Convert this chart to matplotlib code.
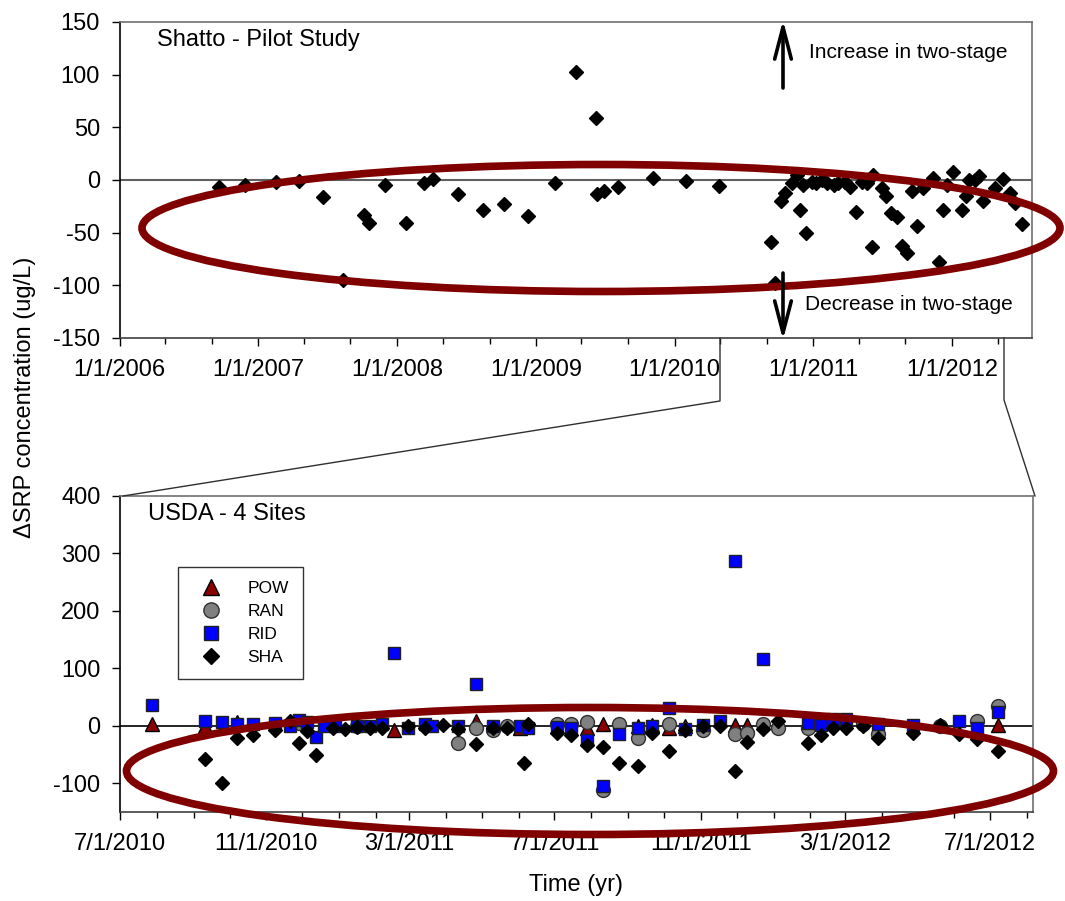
import matplotlib
matplotlib.use("Agg")
import matplotlib.pyplot as plt
import matplotlib.dates as mdates
import matplotlib.ticker as mticker
from matplotlib.patches import Ellipse, FancyArrowPatch
from matplotlib.lines import Line2D
import pandas as pd

plt.rcParams['font.family'] = ['Liberation Sans', 'DejaVu Sans']
plt.rcParams['axes.unicode_minus'] = False

# ---- top panel: Shatto pilot study ----
shatto_dates = ['2006-09-20', '2006-11-27', '2007-02-17', '2007-04-18', '2007-06-21',
                '2007-08-12', '2007-10-07', '2007-10-20', '2007-12-01', '2008-01-25',
                '2008-03-12', '2008-04-05', '2008-06-10', '2008-08-15', '2008-10-09',
                '2008-12-11', '2009-02-20', '2009-04-17', '2009-06-08', '2009-06-11',
                '2009-06-29', '2009-08-05', '2009-11-05', '2010-01-31', '2010-04-28',
                '2010-09-12', '2010-09-22', '2010-10-08', '2010-10-19', '2010-11-06',
                '2010-11-19', '2010-11-27', '2010-12-05', '2010-12-13', '2010-12-29',
                '2011-01-08', '2011-01-24', '2011-02-06', '2011-02-25', '2011-03-07',
                '2011-03-26', '2011-04-08', '2011-04-23', '2011-05-09', '2011-05-23',
                '2011-06-05', '2011-06-08', '2011-07-01', '2011-07-12', '2011-07-25',
                '2011-08-10', '2011-08-23', '2011-09-05', '2011-09-18', '2011-10-01',
                '2011-10-17', '2011-11-13', '2011-11-28', '2011-12-09', '2011-12-19',
                '2012-01-04', '2012-01-28', '2012-02-07', '2012-02-15', '2012-03-02',
                '2012-03-12', '2012-03-23', '2012-04-24', '2012-05-15', '2012-06-02',
                '2012-06-15', '2012-07-04']
shatto_vals = [-7, -5, -2, -1, -16,
               -95, -33, -41, -5, -41,
               -3, 1, -13, -28.5, -23,
               -34, -3, 102.5, 59, -13,
               -10.5, -6.7, 2, -1, -5.5,
               -59, -98, -20, -12, -3,
               5, -28.5, -5, -50, -2,
               -3, 0, -3, -5, -3,
               -2, -6.5, -30.5, -2, -3,
               -64, 5, -7.6, -15, -31,
               -35, -63, -69, -10, -43.7,
               -7.6, 2, -78, -28.5, -5,
               7.6, -28.5, -15, 0, 0,
               4, -20, -7.6, 1, -12,
               -21.5, -42]

# ---- bottom panel: USDA 4 sites ----
pow_dates = ['2010-07-28', '2010-09-10', '2010-10-07', '2011-02-16', '2011-04-26',
             '2011-06-02', '2011-07-28', '2011-08-11', '2011-09-09', '2011-09-21',
             '2011-10-05', '2011-10-19', '2011-11-30', '2011-12-10', '2012-07-08']
pow_vals = [3, 0, 7, -7, 9, -3, -3, 3, 0, 2, -3, 0, 2, 2, 2]

ran_dates = ['2010-11-28', '2011-01-16', '2011-04-11', '2011-04-26', '2011-05-10',
             '2011-05-22', '2011-07-03', '2011-07-15', '2011-07-28', '2011-08-11',
             '2011-08-24', '2011-09-09', '2011-10-05', '2011-11-03', '2011-11-30',
             '2011-12-10', '2011-12-23', '2012-01-05', '2012-01-30', '2012-03-16',
             '2012-03-29', '2012-05-20', '2012-06-20', '2012-07-08']
ran_vals = [5, 0, -30, -4, -7, 0, 3, 3, 7, -112, 3, -21, 3, -7, -14, -12, 3,
            -3.5, -3.5, 3, -14, 0, 9, 35]

rid_dates = ['2010-07-28', '2010-09-10', '2010-09-25', '2010-10-07', '2010-10-21',
             '2010-11-08', '2010-11-21', '2010-11-28', '2010-12-05', '2010-12-13',
             '2010-12-19', '2010-12-29', '2011-01-16', '2011-01-27', '2011-02-06',
             '2011-02-16', '2011-02-28', '2011-03-14', '2011-03-20', '2011-04-11',
             '2011-04-26', '2011-05-10', '2011-06-02', '2011-06-09', '2011-07-03',
             '2011-07-15', '2011-07-28', '2011-08-11', '2011-08-24', '2011-09-09',
             '2011-09-21', '2011-10-05', '2011-10-19', '2011-11-03', '2011-11-17',
             '2011-11-30', '2011-12-23', '2012-01-30', '2012-02-10', '2012-02-20',
             '2012-03-02', '2012-03-29', '2012-04-27', '2012-06-05', '2012-06-20',
             '2012-07-08']
rid_vals = [37, 9, 7, 3, 3, 5, 0, 10, 7, -19,
            0, 0, 0, 0, 3, 126, -3.5, 3, 0, 0,
            72, 0, 0, -3.5, -2, -3.5, -24, -105, -14, -3.5,
            0, 31, -5, 2, 9, 286, 117, 5, 2, 12,
            12, 3, 2, 9, -3.5, 24]

sha_dates = ['2010-09-10', '2010-09-25', '2010-10-07', '2010-10-21', '2010-11-08',
             '2010-11-21', '2010-11-28', '2010-12-05', '2010-12-13', '2010-12-27',
             '2011-01-06', '2011-01-16', '2011-01-27', '2011-02-06', '2011-02-28',
             '2011-03-14', '2011-03-29', '2011-04-11', '2011-04-26', '2011-05-10',
             '2011-05-22', '2011-06-05', '2011-06-09', '2011-07-03', '2011-07-15',
             '2011-07-28', '2011-08-11', '2011-08-24', '2011-09-09', '2011-09-21',
             '2011-10-05', '2011-10-19', '2011-11-03', '2011-11-17', '2011-11-30',
             '2011-12-10', '2011-12-23', '2012-01-05', '2012-01-30', '2012-02-10',
             '2012-02-20', '2012-03-02', '2012-03-16', '2012-03-29', '2012-04-27',
             '2012-05-20', '2012-06-05', '2012-06-20', '2012-07-08']
sha_vals = [-58, -100, -21, -16, -7, 9, -30, -9, -51, -3.5,
            -5, -2, -3.5, -3.5, 0, -3.5, 1, -5, -31, -3.5,
            -3.5, -65, 3, -12, -16, -33, -37, -65, -70, -12,
            -44, -7, 0, 0, -79, -28, -5, 9, -30, -16,
            -3.5, -3.5, 0, -21, -12, 2, -14, -23, -44]

W, H = 1065, 901


def fx(x):
    return x / W


def fy(y):
    return 1 - y / H


def mdy(x, pos=None):
    d = mdates.num2date(x)
    return '%d/%d/%d' % (d.month, d.day, d.year)


fig = plt.figure(figsize=(W / 100, H / 100), dpi=100)
ax1 = fig.add_axes([fx(119.5), fy(338), fx(1032) - fx(119.5), fy(22) - fy(338)])
ax2 = fig.add_axes([fx(120), fy(812), fx(1033) - fx(120), fy(496) - fy(812)])

for ax in (ax1, ax2):
    ax.spines['top'].set_color('#707070')
    ax.spines['right'].set_color('#707070')
    ax.spines['left'].set_color('black')
    ax.spines['bottom'].set_color('#404040')
    for s in ax.spines.values():
        s.set_linewidth(1.2)
    ax.tick_params(axis='both', which='major', direction='out', length=6, width=1,
                   labelsize=17, colors='black')
    ax.tick_params(axis='both', which='minor', direction='out', length=4, width=1)
    ax.tick_params(axis='x', pad=9)
    ax.tick_params(axis='y', pad=8)
    ax.xaxis.set_major_formatter(mticker.FuncFormatter(mdy))

# top
ax1.axhline(0, color='#606060', lw=1.5, zorder=1)
ax1.plot(pd.to_datetime(shatto_dates), shatto_vals, ls='none', marker='D', ms=7.2,
         color='black', zorder=3)
ax1.set_xlim(pd.Timestamp('2006-01-01'), pd.Timestamp('2012-07-30'))
ax1.set_ylim(-150, 150)
ax1.set_yticks(range(-150, 151, 50))
ax1.xaxis.set_major_locator(mdates.YearLocator())
ax1.xaxis.set_minor_locator(mdates.MonthLocator(bymonth=[5, 9]))
ax1.text(fx(157), fy(40), 'Shatto - Pilot Study', transform=fig.transFigure,
         fontsize=17, va='center', ha='left')

# bottom
ax2.axhline(0, color='black', lw=1.2, zorder=1)
ax2.plot(pd.to_datetime(pow_dates), pow_vals, ls='none', marker='^', ms=10,
         mfc='#8b0000', mec='black', mew=1, zorder=3, label='POW')
ax2.plot(pd.to_datetime(ran_dates), ran_vals, ls='none', marker='o', ms=10,
         mfc='#808080', mec='#303030', mew=1, zorder=4, label='RAN')
ax2.plot(pd.to_datetime(rid_dates), rid_vals, ls='none', marker='s', ms=8.6,
         mfc='#0000ff', mec='#202020', mew=1, zorder=5, label='RID')
ax2.plot(pd.to_datetime(sha_dates), sha_vals, ls='none', marker='D', ms=7.6,
         color='black', zorder=6, label='SHA')
ax2.set_xlim(pd.Timestamp('2010-07-01'), pd.Timestamp('2012-08-06'))
ax2.set_ylim(-150, 400)
ax2.set_yticks(range(-100, 401, 100))
ax2.xaxis.set_major_locator(mdates.MonthLocator(bymonth=[3, 7, 11]))
ax2.xaxis.set_minor_locator(mdates.MonthLocator())
ax2.text(fx(148), fy(514), 'USDA - 4 Sites', transform=fig.transFigure,
         fontsize=17, va='center', ha='left')
leg = ax2.legend(loc='upper left', bbox_to_anchor=((178 - 120) / 913, (812 - 567) / 316),
                 fontsize=12.5, frameon=True, fancybox=False, edgecolor='black',
                 borderpad=0.8, labelspacing=0.45, handletextpad=1.0, borderaxespad=0,
                 handlelength=2.2, markerscale=1.1)
leg.get_frame().set_linewidth(1)

# ellipses
for cx, cy, ew, eh in [(601, 228, 918, 127), (590, 771, 927, 127)]:
    fig.add_artist(Ellipse((fx(cx), fy(cy)), ew / W, eh / H, transform=fig.transFigure,
                           fill=False, ec='#800000', lw=5.5, zorder=10))

# arrows
for y0, y1 in [(88, 20), (273, 340)]:
    fig.add_artist(FancyArrowPatch((fx(783), fy(y0)), (fx(783), fy(y1)),
                                   transform=fig.transFigure,
                                   arrowstyle='->,head_length=2.3,head_width=0.6',
                                   mutation_scale=10, lw=2.6, color='black',
                                   zorder=11, shrinkA=0, shrinkB=0))
fig.text(fx(809), fy(53), 'Increase in two-stage', fontsize=15, va='center', ha='left')
fig.text(fx(805), fy(305), 'Decrease in two-stage', fontsize=15, va='center', ha='left')

# zoom connector lines
fig.add_artist(Line2D([fx(720), fx(720), fx(123)], [fy(338), fy(401), fy(496)],
                      transform=fig.transFigure, color='#303030', lw=1))
fig.add_artist(Line2D([fx(1004), fx(1004), fx(1035)], [fy(338), fy(400), fy(496)],
                      transform=fig.transFigure, color='#303030', lw=1))

# axis titles
fig.text(fx(25), fy(397), '\u0394SRP concentration (ug/L)', rotation=90,
         fontsize=17, va='center', ha='center')
fig.text(fx(576), fy(885), 'Time (yr)', fontsize=17, va='center', ha='center')

fig.savefig('out.png', dpi=100)
